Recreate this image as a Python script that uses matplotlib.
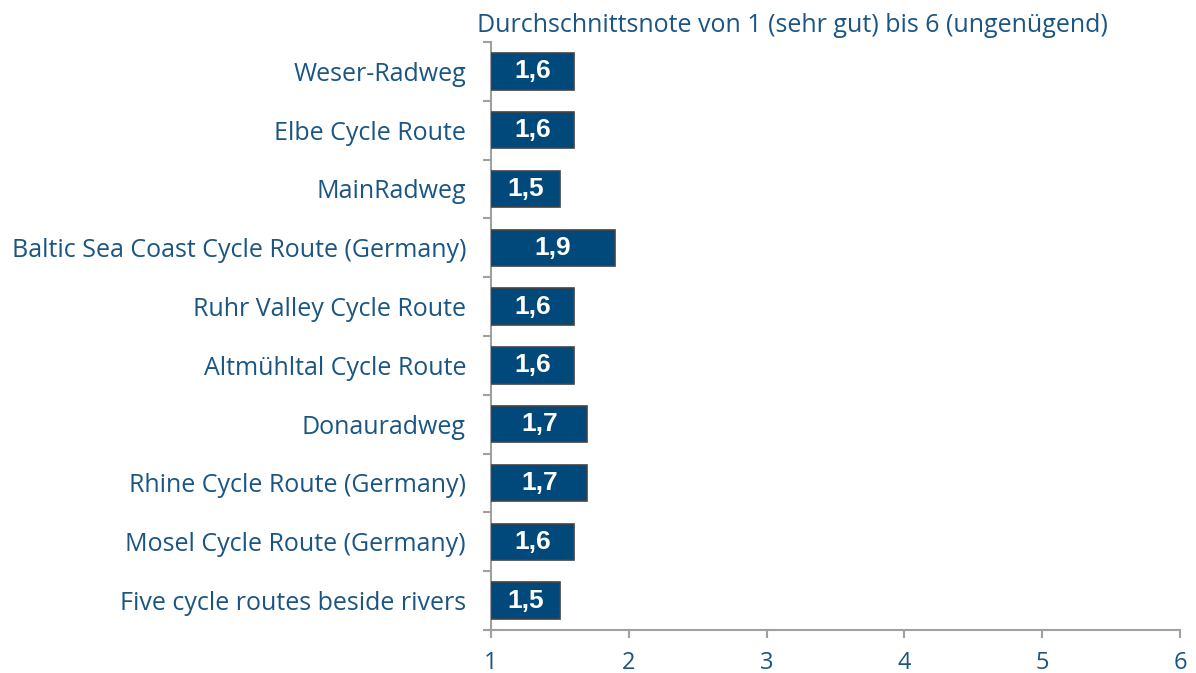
import matplotlib
matplotlib.use("Agg")
import matplotlib.pyplot as plt
import numpy as np

categories = ["Weser-Radweg", "Elbe Cycle Route", "MainRadweg",
              "Baltic Sea Coast Cycle Route (Germany)", "Ruhr Valley Cycle Route",
              "Altmühltal Cycle Route", "Donauradweg", "Rhine Cycle Route (Germany)",
              "Mosel Cycle Route (Germany)", "Five cycle routes beside rivers"]
values = [1.6, 1.6, 1.5, 1.9, 1.6, 1.6, 1.7, 1.7, 1.6, 1.5]
xticks = [1, 2, 3, 4, 5, 6]
title = "Durchschnittsnote von 1 (sehr gut) bis 6 (ungenügend)"

txt_color = "#1a5583"
bar_color = "#00497a"
fam = "Open Sans"

fig = plt.figure(figsize=(11.96, 6.73), dpi=100)
ax = fig.add_axes([491/1196, 1-630/673, (1180-491)/1196, (630-42)/673])

n = len(categories)
y = np.arange(n)[::-1]
ax.barh(y, [v - 1 for v in values], left=1, height=0.62, color=bar_color,
        edgecolor="#444444", linewidth=1.2, zorder=3)
for yi, v in zip(y, values):
    ax.text(1 + (v - 1) / 2, yi, f"{v:.1f}".replace(".", ","), ha="center", va="center",
            color="white", fontsize=19, fontweight="bold", family="Liberation Sans", zorder=4)

ax.set_xlim(1, 6)
ax.set_ylim(-0.5, n - 0.5)
ax.set_xticks(xticks)
ax.set_xticklabels([str(t) for t in xticks], fontsize=17, color=txt_color, family=fam)
ax.set_yticks(y)
ax.set_yticklabels(categories, fontsize=18, color=txt_color, family=fam)
ax.set_yticks(np.arange(-0.5, n, 1), minor=True)
ax.tick_params(axis="y", which="major", length=0, pad=18)
ax.tick_params(axis="y", which="minor", length=6, width=1.5, color="#a0a0a0")
ax.tick_params(axis="x", length=6, width=1.5, color="#a0a0a0", pad=9)

for s in ["top", "right"]:
    ax.spines[s].set_visible(False)
for s in ["left", "bottom"]:
    ax.spines[s].set_color("#a0a0a0")
    ax.spines[s].set_linewidth(1.5)

fig.text(792/1196, 1-25/673, title, ha="center", va="center", fontsize=18,
         color=txt_color, family=fam)

fig.savefig("out.png", dpi=100)
